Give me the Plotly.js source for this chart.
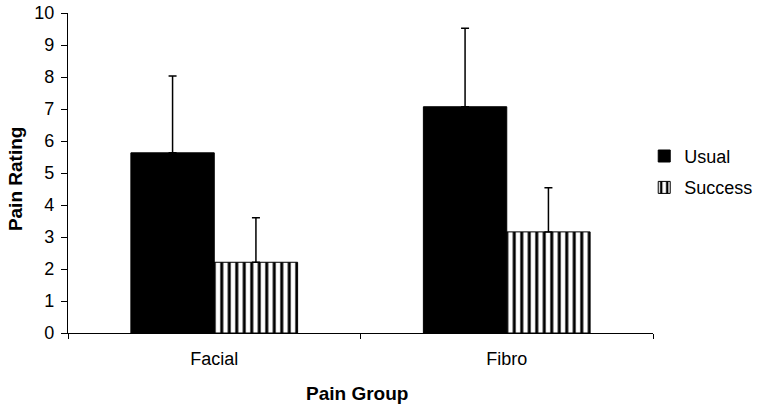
<!DOCTYPE html>
<html><head><meta charset="utf-8">
<script src="https://cdn.plot.ly/plotly-3.0.1.min.js"></script>
<style>body{margin:0;background:#fff}#c{width:762px;height:408px}</style>
</head><body><div id="c"></div>
<script>
const categories = ["Facial", "Fibro"];
const usual = [5.63, 7.07];
const usualErr = [2.4, 2.45];
const success = [2.21, 3.16];
const successErr = [1.39, 1.38];
const yTicks = [0,1,2,3,4,5,6,7,8,9,10];

const font = "Liberation Sans, Arial, sans-serif";
const data = [
  {type:"bar", name:"Usual", x:categories, y:usual, legendgroup:"a",
   marker:{color:"#000", line:{color:"#000", width:1}},
   error_y:{type:"data", array:usualErr, arrayminus:[0,0], symmetric:false, color:"#000", thickness:1.5, width:4}},
  {type:"bar", name:"Success", x:categories, y:success, legendgroup:"b",
   marker:{color:"#fff", line:{color:"#000", width:1},
     pattern:{shape:"|", fgcolor:"#000", bgcolor:"#fff", size:7.5, solidity:0.4, fillmode:"replace"}},
   error_y:{type:"data", array:successErr, arrayminus:[0,0], symmetric:false, color:"#000", thickness:1.5, width:4}}
];
const layout = {
  width:762, height:408,
  margin:{l:68, r:109, t:13, b:75, autoexpand:false},
  paper_bgcolor:"#fff", plot_bgcolor:"#fff",
  barmode:"group", bargap:0.43, bargroupgap:0,
  font:{family:font, color:"#000", size:18},
  xaxis:{showline:true, linecolor:"#000", linewidth:1.2, ticks:"outside", ticklen:5, tickcolor:"#000",
    tickson:"boundaries", showgrid:false, zeroline:false, ticklabelstandoff:9,
    tickfont:{size:18, family:font}},
  yaxis:{range:[0,10], tickvals:yTicks, showline:true, linecolor:"#000", linewidth:1.2, ticks:"outside", ticklen:6,
    tickcolor:"#000", showgrid:false, zeroline:false, tickfont:{size:18, family:font}, ticklabelstandoff:3},
  annotations:[
    {text:"<b>Pain Group</b>", xref:"paper", yref:"paper", x:0.494, y:-0.1875, xanchor:"center", yanchor:"middle",
     showarrow:false, font:{size:19, family:font}},
    {text:"<b>Pain Rating</b>", xref:"paper", yref:"paper", x:-0.0906, y:0.484, xanchor:"center", yanchor:"middle",
     textangle:-90, showarrow:false, font:{size:19, family:font}}
  ],
  showlegend:true,
  legend:{x:0.985, y:0.61, xanchor:"left", yanchor:"top", font:{size:18, family:font},
    traceorder:"grouped", tracegroupgap:5, itemwidth:30, bgcolor:"rgba(0,0,0,0)"}
};
Plotly.newPlot("c", data, layout, {displayModeBar:false, staticPlot:true});
</script></body></html>
